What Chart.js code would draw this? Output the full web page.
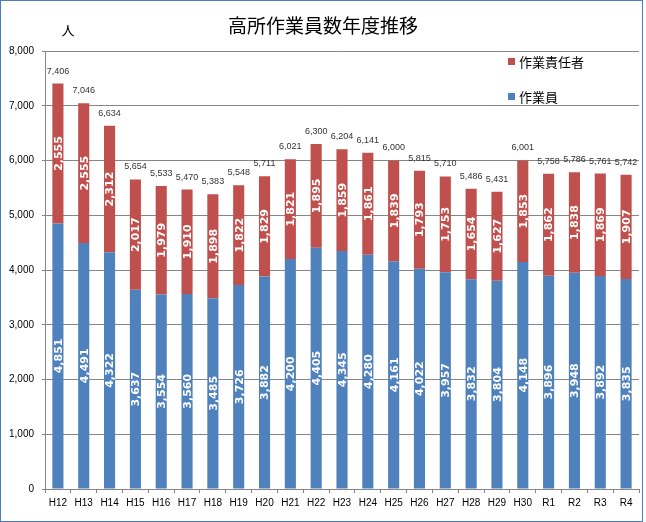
<!DOCTYPE html>
<html>
<head>
<meta charset="utf-8">
<script src="https://cdn.jsdelivr.net/npm/chart.js@4.4.1/dist/chart.umd.min.js"></script>
<style>
  body { margin: 0; background: #fff; }
  canvas { display: block; }
</style>
</head>
<body>
<canvas id="chart" width="646" height="522"></canvas>
<script>
/* data */
const years = ['H12', 'H13', 'H14', 'H15', 'H16', 'H17', 'H18', 'H19', 'H20', 'H21', 'H22', 'H23', 'H24', 'H25', 'H26', 'H27', 'H28', 'H29', 'H30', 'R1', 'R2', 'R3', 'R4'];
const workers = [4851, 4491, 4322, 3637, 3554, 3560, 3485, 3726, 3882, 4200, 4405, 4345, 4280, 4161, 4022, 3957, 3832, 3804, 4148, 3896, 3948, 3892, 3835];
const leaders = [2555, 2555, 2312, 2017, 1979, 1910, 1898, 1822, 1829, 1821, 1895, 1859, 1861, 1839, 1793, 1753, 1654, 1627, 1853, 1862, 1838, 1869, 1907];
const totals = [7406, 7046, 6634, 5654, 5533, 5470, 5383, 5548, 5711, 6021, 6300, 6204, 6141, 6000, 5815, 5710, 5486, 5431, 6001, 5758, 5786, 5761, 5742];
const yTicks = [0, 1000, 2000, 3000, 4000, 5000, 6000, 7000, 8000];

const BLUE = '#4F81BD';
const RED = '#C0504D';
const fmt = (v) => v.toLocaleString('en-US');

// labels inside the bars + totals on top
const barLabels = {
    id: 'barLabels',
    afterDatasetsDraw(chart) {
        const ctx = chart.ctx;
        ctx.save();
        chart.data.datasets.forEach((ds, i) => {
            const meta = chart.getDatasetMeta(i);
            meta.data.forEach((bar, j) => {
                const p = bar.getProps(['x', 'y', 'base'], true);
                ctx.save();
                ctx.translate(p.x, (p.y + p.base) / 2);
                ctx.rotate(-Math.PI / 2);
                ctx.font = 'bold 11px "DejaVu Sans"';
                ctx.fillStyle = '#fff';
                ctx.textAlign = 'center';
                ctx.textBaseline = 'middle';
                ctx.fillText(fmt(ds.data[j]), 0, 1);
                ctx.restore();
            });
        });
        // totals
        const top = chart.getDatasetMeta(chart.data.datasets.length - 1);
        ctx.font = '9px "Liberation Sans"';
        ctx.fillStyle = '#333';
        ctx.textAlign = 'center';
        ctx.textBaseline = 'bottom';
        top.data.forEach((bar, j) => {
            ctx.fillText(fmt(totals[j]), bar.x, bar.y - 8);
        });
        ctx.restore();
    }
};

// title, unit, legend and outer frame
const decor = {
    id: 'decor',
    afterDraw(chart) {
        const ctx = chart.ctx;
        ctx.save();
        ctx.fillStyle = '#000';
        ctx.textAlign = 'center';
        ctx.textBaseline = 'middle';
        ctx.font = '19px "Noto Sans CJK JP"';
        ctx.fillText('高所作業員数年度推移', 323, 26);
        ctx.font = '13px "Noto Sans CJK JP"';
        ctx.fillText('人', 68, 30);

        // legend
        const items = [['作業責任者', RED, 62], ['作業員', BLUE, 97]];
        ctx.textAlign = 'left';
        ctx.font = '13px "Noto Sans CJK JP"';
        items.forEach(([txt, col, y]) => {
            ctx.fillStyle = col;
            ctx.fillRect(508, y - 4, 7, 7);
            ctx.fillStyle = '#000';
            ctx.fillText(txt, 519, y);
        });

        ctx.strokeStyle = '#4A7EBB';
        ctx.lineWidth = 1;
        ctx.strokeRect(0.5, 0.5, 642, 521);
        ctx.restore();
    }
};

new Chart(document.getElementById('chart'), {
    type: 'bar',
    data: {
        labels: years,
        datasets: [{
            label: '作業員',
            data: workers,
            backgroundColor: BLUE,
            barPercentage: 0.43,
            categoryPercentage: 1
        }, {
            label: '作業責任者',
            data: leaders,
            backgroundColor: RED,
            barPercentage: 0.43,
            categoryPercentage: 1
        }]
    },
    options: {
        responsive: false,
        animation: false,
        layout: { padding: { top: 51, right: 7, left: 0, bottom: 0 } },
        scales: {
            x: {
                stacked: true,
                grid: {
                    offset: true,
                    drawOnChartArea: false,
                    drawTicks: true,
                    tickLength: 4,
                    color: '#868686'
                },
                border: { color: '#868686' },
                ticks: {
                    color: '#000',
                    font: { family: 'Liberation Sans', size: 10 },
                    padding: 4,
                    maxRotation: 0,
                    autoSkip: false
                },
                afterFit: (s) => { s.height = 33; }
            },
            y: {
                stacked: true,
                min: 0,
                max: 8000,
                grid: {
                    color: '#868686',
                    tickLength: 3
                },
                border: { color: '#868686' },
                afterBuildTicks: (s) => { s.ticks = yTicks.map(v => ({ value: v })); },
                ticks: {
                    color: '#000',
                    font: { family: 'Liberation Sans', size: 10 },
                    padding: 8,
                    callback: (v) => fmt(v)
                },
                afterFit: (s) => { s.width = 45; }
            }
        },
        plugins: {
            legend: { display: false },
            tooltip: { enabled: false }
        }
    },
    plugins: [barLabels, decor]
});
</script>
</body>
</html>
